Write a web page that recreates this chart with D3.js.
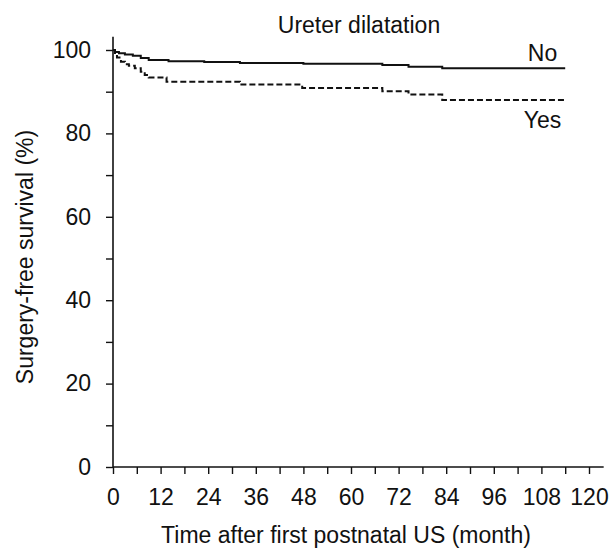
<!DOCTYPE html>
<html>
<head>
<meta charset="utf-8">
<script src="https://cdn.jsdelivr.net/npm/d3@7"></script>
<style>
  body { margin: 0; background: #fff; }
  text { font-family: "Liberation Sans", Arial, Helvetica, sans-serif; fill: #111; }
</style>
</head>
<body>
<div id="chart"></div>
<script>
const svgWidth = 613
const svgHeight = 549

let margin = {
  top: 50,
  right: 25,
  bottom: 82,
  left: 113
}

let width = 476
let height = svgHeight - margin.top - margin.bottom

// Kaplan-Meier steps: [month, survival %]
const noMonths = [0, 0.5, 1.5, 3, 5, 7, 9, 14, 23, 32, 48, 67.9, 74.5, 83, 114]
const noSurvival = [100, 99.5, 99.2, 98.9, 98.6, 98.1, 97.6, 97.3, 97.1, 96.9, 96.7, 96.4, 96.0, 95.6, 95.6]

const yesMonths = [0, 0.5, 1, 2, 3, 4, 5.5, 7, 8, 9, 13.5, 32, 47.7, 67.9, 74.5, 83, 114]
const yesSurvival = [100, 99, 98.2, 97.2, 96.6, 96.2, 95.6, 94.8, 94.0, 93.4, 92.4, 91.7, 90.9, 90.1, 89.3, 88.0, 88.0]

const xTicks = d3.range(0, 121, 6)
const yTicks = d3.range(0, 101, 10)

let noData = noMonths.map((m, i) => ({ month: m, survival: noSurvival[i] }))
let yesData = yesMonths.map((m, i) => ({ month: m, survival: yesSurvival[i] }))

let svg = d3
  .select("#chart")
  .append("svg")
  .attr("width", svgWidth)
  .attr("height", svgHeight)

let chartGroup = svg
  .append("g")
  .attr("transform", `translate(${margin.left}, ${margin.top})`)

let xScale = d3.scaleLinear().domain([0, 120]).range([0, width])
let yScale = d3.scaleLinear().domain([0, 100]).range([height, 0])

let bottomAxis = d3.axisBottom(xScale)
  .tickValues(xTicks)
  .tickSize(7)
  .tickPadding(15)
  .tickFormat(d => d % 12 === 0 ? d : "")

let leftAxis = d3.axisLeft(yScale)
  .tickValues(yTicks)
  .tickSize(7)
  .tickPadding(15)
  .tickFormat(d => d % 20 === 0 ? d : "")

let xAxis = chartGroup
  .append("g")
  .attr("transform", `translate(0, ${height})`)
  .call(bottomAxis)

let yAxis = chartGroup.append("g").call(leftAxis)

// axis lines run a little past the last tick, as in the original
xAxis.select(".domain").remove()
yAxis.select(".domain").remove()

chartGroup.append("line")
  .attr("x1", 0).attr("x2", xScale(123.7))
  .attr("y1", height).attr("y2", height)
  .attr("stroke", "#111").attr("stroke-width", 1.6)

chartGroup.append("line")
  .attr("x1", 0).attr("x2", 0)
  .attr("y1", height).attr("y2", yScale(103.2))
  .attr("stroke", "#111").attr("stroke-width", 1.6)

chartGroup.selectAll(".tick line").attr("stroke", "#111").attr("stroke-width", 1.4)
chartGroup.selectAll(".tick text").attr("font-size", "23px").attr("font-family", null)

let line = d3.line()
  .x(d => xScale(d.month))
  .y(d => yScale(d.survival))
  .curve(d3.curveStepAfter)

chartGroup.append("path")
  .datum(noData)
  .attr("fill", "none")
  .attr("stroke", "#111")
  .attr("stroke-width", 2)
  .attr("d", line)

chartGroup.append("path")
  .datum(yesData)
  .attr("fill", "none")
  .attr("stroke", "#111")
  .attr("stroke-width", 2)
  .attr("stroke-dasharray", "6,3")
  .attr("d", line)

// group labels
chartGroup.append("text")
  .attr("x", xScale(112))
  .attr("y", 11)
  .attr("text-anchor", "end")
  .attr("font-size", "23px")
  .text("No")

chartGroup.append("text")
  .attr("x", xScale(113))
  .attr("y", 78)
  .attr("text-anchor", "end")
  .attr("font-size", "23px")
  .text("Yes")

// title and axis titles
svg.append("text")
  .attr("x", 359)
  .attr("y", 33)
  .attr("text-anchor", "middle")
  .attr("font-size", "23px")
  .text("Ureter dilatation")

svg.append("text")
  .attr("x", 346)
  .attr("y", 543)
  .attr("text-anchor", "middle")
  .attr("font-size", "23px")
  .text("Time after first postnatal US (month)")

svg.append("text")
  .attr("transform", "rotate(-90)")
  .attr("x", -257)
  .attr("y", 33)
  .attr("text-anchor", "middle")
  .attr("font-size", "23px")
  .text("Surgery-free survival (%)")
</script>
</body>
</html>
